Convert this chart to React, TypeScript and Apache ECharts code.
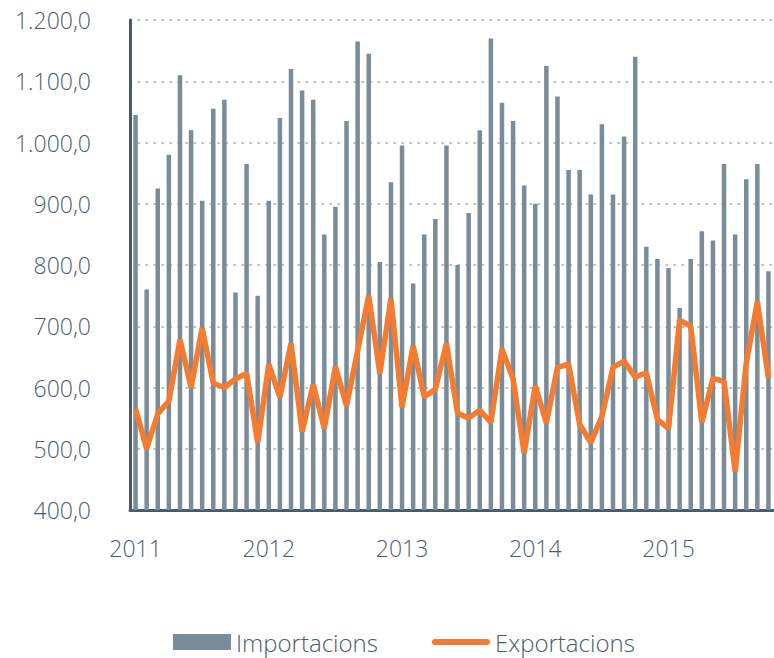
import React, { useEffect, useRef } from "react";
import * as echarts from "echarts";

const years = ["2011", "2012", "2013", "2014", "2015"];
const months = ["01", "02", "03", "04", "05", "06", "07", "08", "09", "10", "11", "12"];
const categories: string[] = [];
years.forEach((y) => months.forEach((m) => categories.push(`${y}-${m}`)));
const shownCategories = categories.slice(0, 58);

const importacions = [
  1045, 760, 925, 980, 1110, 1020, 905, 1055, 1070, 755, 965, 750,
  905, 1040, 1120, 1085, 1070, 850, 895, 1035, 1165, 1145, 805, 935,
  995, 770, 850, 875, 995, 800, 885, 1020, 1170, 1065, 1035, 930,
  900, 1125, 1075, 955, 955, 915, 1030, 915, 1010, 1140, 830, 810,
  795, 730, 810, 855, 840, 965, 850, 940, 965, 790,
];

const exportacions = [
  565, 500, 557, 578, 678, 600, 697, 607, 600, 614, 623, 510,
  638, 584, 672, 528, 605, 533, 634, 570, 660, 750, 623, 745,
  568, 668, 585, 597, 672, 558, 550, 563, 543, 663, 614, 493,
  603, 542, 633, 638, 540, 510, 553, 633, 643, 617, 624, 548,
  533, 710, 700, 543, 615, 610, 463, 640, 740, 615,
];

const yTicks = { min: 400, max: 1200, interval: 100 };

const TEXT = "#4b5d6b";
const BAR = "#7b8c99";
const LINE = "#f47b30";
const FONT = "'Open Sans', Lato, sans-serif";

function fmt(v: number): string {
  const s = v.toFixed(1);
  const [i, d] = s.split(".");
  const withDots = i.replace(/\B(?=(\d{3})+(?!\d))/g, ".");
  return `${withDots},${d}`;
}

export default function App() {
  const ref = useRef<HTMLDivElement>(null);
  useEffect(() => {
    document.body.style.margin = "0";
    if (!ref.current) return;
    const chart = echarts.init(ref.current, null, { renderer: "svg" });
    chart.setOption({
      animation: false,
      backgroundColor: "#ffffff",
      textStyle: { fontFamily: FONT },
      grid: { left: 130, top: 20, bottom: 148, width: 648 },
      legend: {
        left: 173,
        top: 630,
        padding: 0,
        itemWidth: 58,
        itemHeight: 16,
        itemGap: 54,
        textStyle: { fontSize: 24, color: TEXT, fontFamily: FONT, fontWeight: 300 },
        data: [
          { name: "Importacions", icon: "rect" },
          {
            name: "Exportacions",
            icon: "path://M3,0 L55,0 A3,3 0 0 1 55,6 L3,6 A3,3 0 0 1 3,0 Z",
            itemStyle: { color: LINE },
          },
        ],
      },
      xAxis: {
        type: "category",
        data: shownCategories,
        boundaryGap: true,
        axisLine: { show: true, lineStyle: { color: "#4a5b68", width: 3 } },
        axisTick: { show: false },
        axisLabel: {
          interval: (i: number) => i % 12 === 0,
          formatter: (v: string) => v.slice(0, 4),
          color: TEXT,
          fontSize: 23,
          fontFamily: FONT,
          fontWeight: 300,
          margin: 26,
        },
        splitLine: { show: false },
      },
      yAxis: {
        type: "value",
        min: yTicks.min,
        max: yTicks.max,
        interval: yTicks.interval,
        axisLine: { show: true, lineStyle: { color: "#4a5b68", width: 3 } },
        axisTick: { show: false },
        axisLabel: {
          formatter: (v: number) => fmt(v),
          color: TEXT,
          fontSize: 23,
          fontFamily: FONT,
          fontWeight: 300,
          margin: 39,
        },
        splitLine: {
          show: true,
          lineStyle: { color: "#a3abb2", width: 1.6, type: [1.5, 6.5], cap: "round" },
        },
      },
      series: [
        {
          name: "Importacions",
          type: "bar",
          data: importacions,
          barWidth: 4.5,
          itemStyle: { color: BAR },
        },
        {
          name: "Exportacions",
          type: "line",
          data: exportacions,
          symbol: "none",
          lineStyle: { color: LINE, width: 5.5 },
          itemStyle: { color: LINE },
          z: 3,
        },
      ],
    });
    return () => chart.dispose();
  }, []);
  return <div ref={ref} style={{ width: 774, height: 658 }} />;
}
